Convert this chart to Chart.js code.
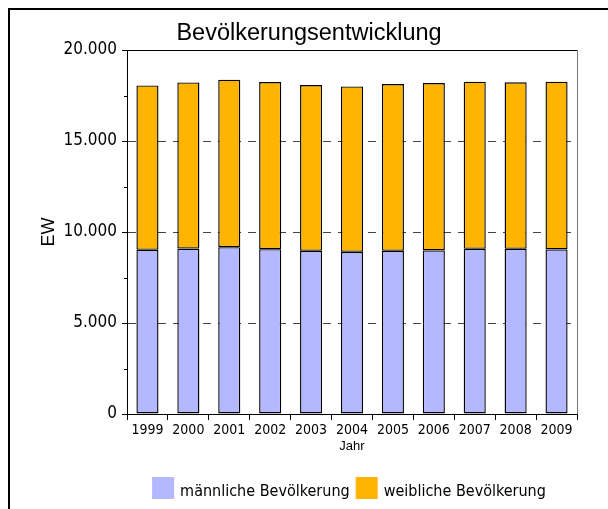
<!DOCTYPE html>
<html>
<head>
<meta charset="utf-8">
<script src="https://cdn.jsdelivr.net/npm/chart.js@4.4.1/dist/chart.umd.min.js"></script>
<style>
  html, body { margin: 0; padding: 0; background: #fff; }
  canvas { display: block; }
</style>
</head>
<body>
<canvas id="canvas" width="608" height="509"></canvas>
<script>
var jahre = ['1999', '2000', '2001', '2002', '2003', '2004', '2005', '2006', '2007', '2008', '2009'];
var maennlich = [9020, 9090, 9165, 9055, 8965, 8910, 8965, 8985, 9075, 9075, 9040];
var weiblich = [9035, 9130, 9205, 9185, 9110, 9090, 9165, 9200, 9185, 9150, 9220];
var yTicks = [0, 5000, 10000, 15000, 20000];
var yTickLabels = ['0', '5.000', '10.000', '15.000', '20.000'];
var yMinorTicks = [2500, 7500, 12500, 17500];

var narrow = "'Liberation Sans Narrow', 'DejaVu Sans Condensed', 'Arial Narrow', sans-serif";
var sans = "'Liberation Sans', Arial, sans-serif";

// frame, title, minor ticks and legend
var extras = {
    id: 'extras',
    beforeDraw: function (chart) {
        var ctx = chart.ctx;
        ctx.save();
        ctx.fillStyle = '#000';
        ctx.fillRect(8, 8, 600, 2);
        ctx.fillRect(8, 8, 2, 501);
        ctx.restore();
    },
    afterDraw: function (chart) {
        var ctx = chart.ctx;
        var a = chart.chartArea;
        var y = chart.scales.y;
        ctx.save();
        // plot frame top + right
        ctx.lineWidth = 1;
        ctx.strokeStyle = '#000';
        ctx.beginPath();
        ctx.moveTo(a.left, a.top + 0.5);
        ctx.lineTo(a.right, a.top + 0.5);
        ctx.stroke();
        ctx.strokeStyle = '#777';
        ctx.beginPath();
        ctx.moveTo(a.right + 0.5, a.top);
        ctx.lineTo(a.right + 0.5, a.bottom);
        ctx.stroke();
        // minor ticks
        ctx.strokeStyle = '#000';
        yMinorTicks.forEach(function (v) {
            var py = Math.round(y.getPixelForValue(v)) + 0.5;
            ctx.beginPath();
            ctx.moveTo(a.left - 3, py);
            ctx.lineTo(a.left, py);
            ctx.stroke();
        });
        // title
        ctx.fillStyle = '#000';
        ctx.font = '23.5px ' + sans;
        ctx.textAlign = 'center';
        ctx.textBaseline = 'alphabetic';
        ctx.fillText('Bevölkerungsentwicklung', 309, 40);
        // legend
        ctx.font = '16px ' + narrow;
        ctx.textAlign = 'left';
        var items = chart.data.datasets.map(function (d) {
            return { text: d.label, color: d.backgroundColor, w: ctx.measureText(d.label).width };
        });
        var total = 0;
        items.forEach(function (it, i) { total += 22 + 6 + it.w + (i < items.length - 1 ? 6 : 0); });
        var x = 349 - total / 2;
        items.forEach(function (it) {
            ctx.fillStyle = it.color;
            ctx.fillRect(x, 477, 22, 22);
            ctx.fillStyle = '#000';
            ctx.fillText(it.text, x + 28, 496);
            x += 22 + 6 + it.w + 6;
        });
        ctx.restore();
    }
};

new Chart(document.getElementById('canvas').getContext('2d'), {
    type: 'bar',
    data: {
        labels: jahre,
        datasets: [{
            label: 'männliche Bevölkerung',
            data: maennlich,
            backgroundColor: '#B4B8FF',
            borderColor: '#000',
            borderWidth: 1.4,
            borderSkipped: false
        }, {
            label: 'weibliche Bevölkerung',
            data: weiblich,
            backgroundColor: '#FFB400',
            borderColor: '#000',
            borderWidth: 1.4,
            borderSkipped: false
        }]
    },
    options: {
        responsive: false,
        animation: false,
        layout: { padding: { top: 50, right: 31, left: 0, bottom: 0 } },
        datasets: {
            bar: { categoryPercentage: 0.54, barPercentage: 1.0 }
        },
        plugins: {
            legend: { display: false },
            title: { display: false },
            tooltip: { enabled: false }
        },
        scales: {
            x: {
                stacked: true,
                offset: true,
                afterFit: function (s) { s.height = 95; },
                grid: { offset: true, drawOnChartArea: false, drawTicks: true, tickLength: 6, tickColor: '#000' },
                border: { color: '#000', width: 1 },
                ticks: { font: { family: narrow, size: 14 }, color: '#000', padding: 2, maxRotation: 0, autoSkip: false },
                title: { display: true, text: 'Jahr', font: { family: sans, size: 13 }, color: '#000', padding: { top: 0, bottom: 55 } }
            },
            y: {
                stacked: true,
                min: 0,
                max: 20000,
                afterBuildTicks: function (s) { s.ticks = yTicks.map(function (v) { return { value: v }; }); },
                afterFit: function (s) { s.width = 127; },
                ticks: {
                    font: { family: narrow, size: 17 },
                    color: '#000',
                    padding: 5,
                    callback: function (v) { return yTickLabels[yTicks.indexOf(v)]; }
                },
                grid: {
                    color: function (c) {
                        return (c.tick && (c.tick.value === 0 || c.tick.value === 20000)) ? 'rgba(0,0,0,0)' : '#444';
                    },
                    tickColor: '#000',
                    tickLength: 5,
                    lineWidth: 1
                },
                border: { color: '#000', width: 1, dash: [8, 7] },
                title: { display: true, text: 'EW', font: { family: sans, size: 18 }, color: '#000', padding: { top: 38, bottom: 0 } }
            }
        }
    },
    plugins: [extras]
});
</script>
</body>
</html>
